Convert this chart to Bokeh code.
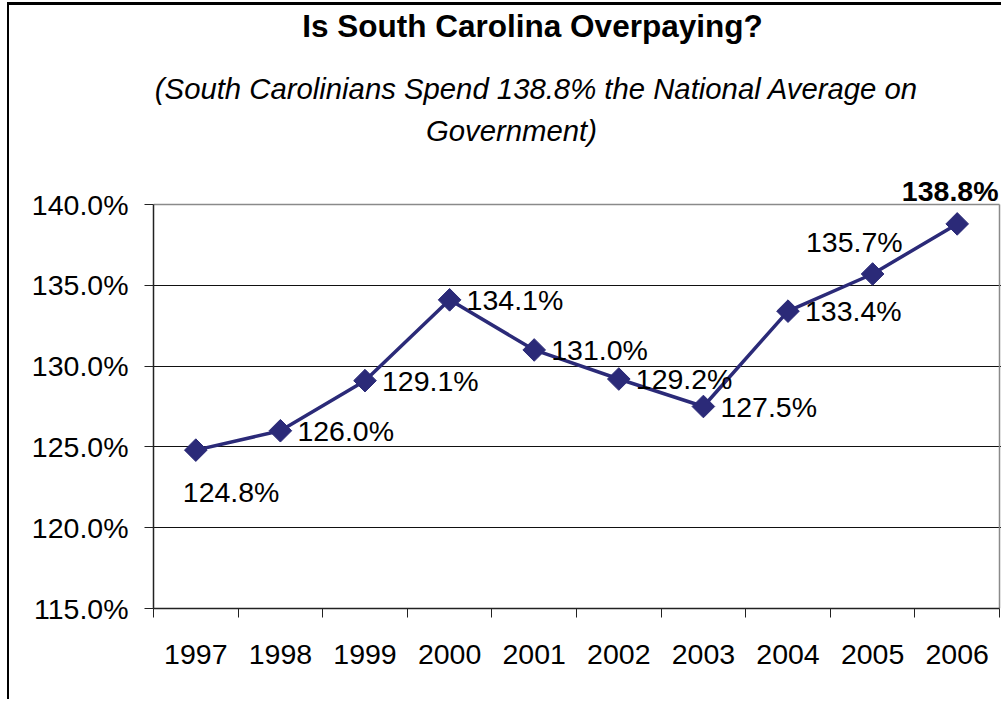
from bokeh.plotting import figure
from bokeh.models import (FixedTicker, PrintfTickFormatter, Label, ColumnDataSource, Range1d)
from bokeh.embed import file_html
from bokeh.resources import INLINE

# ---- data ----
years = ["1997", "1998", "1999", "2000", "2001", "2002", "2003", "2004", "2005", "2006"]
pct = [124.8, 126.0, 129.1, 134.1, 131.0, 129.2, 127.5, 133.4, 135.7, 138.8]
y_ticks = [115, 120, 125, 130, 135, 140]
title_text = "Is South Carolina Overpaying?"
subtitle_lines = ["(South Carolinians Spend 138.8% the National Average on", "Government)"]

# label placement style per point
placement = ["below", "right", "right", "right", "right", "right", "right", "right", "aboveleft", "above"]

FONT = "Liberation Sans"
FS = "28.5px"
NAVY = "#2B2A78"
W, H = 1003, 702
ML, MT = 9, 5                 # outer border offsets (page px)
FL, FR, FT, FB = 153, 999, 204, 608   # plot-area edges in page px

Y0, Y1 = y_ticks[0], y_ticks[-1]
n = len(years)
PX_Y = (FB - FT) / (Y1 - Y0)   # px per percentage point
PX_X = (FR - FL) / n           # px per category
# frame extends up to the top of the figure and to the right edge so texts there are drawn
Y_TOP = Y1 + (FT - MT) / PX_Y
X_END = n + (W - FR) / PX_X

def dx_(X):   # page x -> data x
    return (X - FL) / PX_X

def dy_(Y):   # page y -> data y
    return Y1 + (FT - Y) / PX_Y

xs = [i + 0.5 for i in range(n)]

p = figure(width=W - ML, height=H - MT, output_backend="svg", toolbar_location=None,
           x_range=Range1d(0, X_END), y_range=Range1d(Y0, Y_TOP),
           min_border_left=FL - ML, min_border_right=0, min_border_top=0,
           min_border_bottom=H - FB)
p.styles = {"border-left": "2px solid black", "border-top": "3px solid black",
            "margin-left": "7px", "margin-top": "2px"}
p.background_fill_color = "white"
p.border_fill_color = "white"
p.outline_line_color = None

# grid
p.xgrid.visible = False
p.ygrid.ticker = FixedTicker(ticks=y_ticks[1:-1])
p.ygrid.grid_line_color = "#111111"
p.ygrid.grid_line_width = 1
# plot-area border (top and right, grey)
p.segment(x0=[0], y0=[Y1], x1=[n], y1=[Y1], line_color="#8a8a8a", line_width=1.5)
p.segment(x0=[n], y0=[Y0], x1=[n], y1=[Y1], line_color="#8a8a8a", line_width=1.5)

# y axis
p.yaxis.ticker = FixedTicker(ticks=y_ticks)
p.yaxis.bounds = (Y0, Y1)
p.yaxis.formatter = PrintfTickFormatter(format="%.1f%%")
p.yaxis.major_label_text_font = FONT
p.yaxis.major_label_text_font_size = FS
p.yaxis.major_label_text_color = "black"
p.yaxis.major_tick_out = 9
p.yaxis.major_tick_in = 0
p.yaxis.minor_tick_out = 0
p.yaxis.minor_tick_in = 0
p.yaxis.major_label_standoff = 16
p.yaxis.axis_line_color = "#222222"
p.yaxis.axis_line_width = 1.5
p.yaxis.major_tick_line_color = "#222222"

# x axis: labels at centers, tick marks at category boundaries
p.xaxis.ticker = FixedTicker(ticks=xs, minor_ticks=list(range(n + 1)))
p.xaxis.bounds = (0, n)
p.xaxis.major_label_overrides = {x: y for x, y in zip(xs, years)}
p.xaxis.major_label_text_font = FONT
p.xaxis.major_label_text_font_size = FS
p.xaxis.major_label_text_color = "black"
p.xaxis.major_tick_out = 0
p.xaxis.major_tick_in = 0
p.xaxis.minor_tick_out = 9
p.xaxis.minor_tick_in = 0
p.xaxis.minor_tick_line_color = "#222222"
p.xaxis.major_label_standoff = 27
p.xaxis.axis_line_color = "#222222"
p.xaxis.axis_line_width = 1.5

# series
src = ColumnDataSource(dict(x=xs, y=pct))
p.line("x", "y", source=src, line_color=NAVY, line_width=3.5)
p.scatter("x", "y", source=src, marker="square", angle=0.7853981634, size=16,
          fill_color=NAVY, line_color=NAVY)

# data labels
offs = {"right": (17, 0, "left", "middle"),
        "below": (-13, -42, "left", "middle"),
        "aboveleft": (30, 32, "right", "middle"),
        "above": (-7, 33, "center", "middle")}
for x, v, pl in zip(xs, pct, placement):
    ox, oy, al, bl = offs[pl]
    bold = pl == "above"
    p.add_layout(Label(x=x, y=v, text=f"{v:.1f}%", x_offset=ox, y_offset=oy,
                       text_align=al, text_baseline=bl, text_font=FONT,
                       text_font_size=FS, text_color="black",
                       text_font_style="bold" if bold else "normal"))

# titles
p.add_layout(Label(x=dx_(532), y=dy_(25), text=title_text,
                   text_align="center", text_baseline="middle", text_font=FONT,
                   text_font_size="31.5px", text_font_style="bold", text_color="black"))
p.add_layout(Label(x=dx_(536), y=dy_(88), text=subtitle_lines[0],
                   text_align="center", text_baseline="middle", text_font=FONT,
                   text_font_size="29.3px", text_font_style="italic", text_color="black"))
p.add_layout(Label(x=dx_(511), y=dy_(130), text=subtitle_lines[1],
                   text_align="center", text_baseline="middle", text_font=FONT,
                   text_font_size="29.3px", text_font_style="italic", text_color="black"))

open("out.html", "w").write(file_html(p, INLINE))
